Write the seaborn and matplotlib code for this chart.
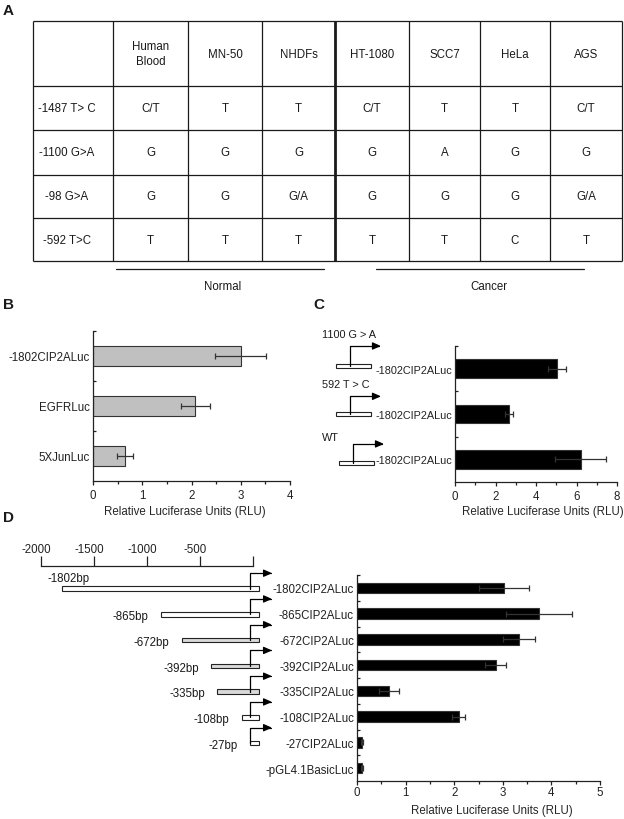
import numpy as np
import matplotlib
matplotlib.use('Agg')
import matplotlib.pyplot as plt
import matplotlib.transforms as mtransforms
from matplotlib.patches import Rectangle
import seaborn as sns

# Panel A: promoter SNP genotypes per cell line
cell_lines = ['Human\nBlood', 'MN-50', 'NHDFs', 'HT-1080', 'SCC7', 'HeLa', 'AGS']
snps = ['-1487 T> C', '-1100 G>A', '-98 G>A', '-592 T>C']
genotypes = [
    ['C/T', 'T', 'T', 'C/T', 'T', 'T', 'C/T'],
    ['G', 'G', 'G', 'G', 'A', 'G', 'G'],
    ['G', 'G', 'G/A', 'G', 'G', 'G', 'G/A'],
    ['T', 'T', 'T', 'T', 'T', 'C', 'T'],
]
groups = ['Normal', 'Cancer']

# Panel B
b_labels = ['-1802CIP2ALuc', 'EGFRLuc', '5XJunLuc']
b_rlu = [3.0, 2.08, 0.65]
b_err = [0.52, 0.30, 0.16]

# Panel C
c_variants = ['1100 G > A', '592 T > C', 'WT']
c_construct = '-1802CIP2ALuc'
c_rlu = [5.05, 2.65, 6.2]
c_err = [0.45, 0.20, 1.25]

# Panel D
d_labels = ['-1802CIP2ALuc', '-865CIP2ALuc', '-672CIP2ALuc', '-392CIP2ALuc',
            '-335CIP2ALuc', '-108CIP2ALuc', '-27CIP2ALuc', '-pGL4.1BasicLuc']
d_starts = [-1802, -865, -672, -392, -335, -108, -27]
d_rlu = [3.02, 3.74, 3.33, 2.85, 0.66, 2.09, 0.10, 0.10]
d_err = [0.52, 0.68, 0.33, 0.22, 0.20, 0.13, 0.02, 0.02]
scale_ticks = [-2000, -1500, -1000, -500, 0]

FS = 8.3
sns.set_style('ticks')
plt.rcParams['font.family'] = ['Liberation Sans', 'DejaVu Sans']
plt.rcParams.update({
    'font.size': FS, 'axes.labelsize': FS, 'xtick.labelsize': FS,
    'ytick.labelsize': FS, 'axes.linewidth': 0.9, 'axes.edgecolor': '#222222',
    'xtick.color': '#222222', 'ytick.color': '#222222', 'text.color': '#1a1a1a',
    'xtick.major.width': 0.9, 'ytick.minor.width': 0.9, 'xtick.minor.width': 0.9,
})

W, H = 624, 820
fig = plt.figure(figsize=(W / 100, H / 100), dpi=100)


def box(x, y, w, h):
    # pixel box (top-left origin) -> figure fraction
    return [x / W, 1 - (y + h) / H, w / W, h / H]


def letter(x, y, s):
    fig.text(x / W, 1 - y / H, s, fontsize=11, fontweight='bold', va='center', ha='left')


ARROW = dict(arrowstyle='-|>,head_length=0.5,head_width=0.22',
             connectionstyle='angle,angleA=90,angleB=0,rad=0',
             color='black', lw=0.9, shrinkA=0, shrinkB=0, mutation_scale=10)

# ---------------- A: table ----------------
col_w = [80, 75, 74, 73, 74, 71, 70, 72]
row_h = [65, 44, 45, 43, 43]
xe = np.concatenate([[0], np.cumsum(col_w)])
ye = np.concatenate([[0], np.cumsum(row_h)])
ax = fig.add_axes(box(33, 22, xe[-1], ye[-1]))
ax.set_xlim(0, xe[-1])
ax.set_ylim(ye[-1], 0)
ax.axis('off')
for i, x in enumerate(xe):
    ax.vlines(x, 0, ye[-1], color='#1a1a1a', lw=2.0 if i == 4 else 0.9, clip_on=False)
ax.hlines(ye, 0, xe[-1], color='#1a1a1a', lw=0.9, clip_on=False)
xc = (xe[:-1] + xe[1:]) / 2
yc = (ye[:-1] + ye[1:]) / 2
for name, x in zip(cell_lines, xc[1:]):
    ax.text(x, yc[0], name, ha='center', va='center', linespacing=1.3)
for r, (snp, row) in enumerate(zip(snps, genotypes)):
    ax.text(xc[0] - 6, yc[r + 1], snp, ha='center', va='center')
    for g, x in zip(row, xc[1:]):
        ax.text(x, yc[r + 1], g, ha='center', va='center')
group_spans = [(83, 291), (343, 551)]
group_text_x = [190, 456]
for name, (g0, g1), tx in zip(groups, group_spans, group_text_x):
    ax.plot([g0, g1], [248, 248], color='#1a1a1a', lw=0.9, clip_on=False)
    ax.text(tx, 265, name, ha='center', va='center')
letter(3, 11, 'A')


# ---------------- bar helper ----------------
def rlu_bars(ax, cats, vals, errs, color, xmax, step, minor, xpad):
    sns.barplot(x=vals, y=cats, orient='h', color=color, edgecolor='#333333',
                linewidth=0.8, width=0.41, saturation=1, errorbar=None, ax=ax)
    n = len(cats)
    ax.errorbar(vals, np.arange(n), xerr=errs, fmt='none', ecolor='#333333',
                elinewidth=0.9, capsize=2.2, capthick=0.9)
    ax.set_ylim(n - 0.5, -0.5)
    ax.set_xlim(0, xmax)
    ax.set_xticks(np.arange(0, xmax + 0.01, step))
    ax.set_xticks(np.arange(0, xmax + 0.01, minor), minor=True)
    ax.set_yticks(np.arange(n))
    ax.set_yticks(np.arange(n) - 0.5, minor=True)
    ax.tick_params(axis='y', which='major', length=0, pad=2.2)
    ax.tick_params(axis='y', which='minor', direction='in', length=2.5)
    ax.tick_params(axis='x', which='major', length=3, pad=xpad)
    ax.tick_params(axis='x', which='minor', length=2.2)
    ax.set_ylabel('')
    ax.set_xlabel('Relative Luciferase Units (RLU)')
    ax.xaxis.label.set_va('center')
    sns.despine(ax=ax)


# ---------------- B ----------------
ax_b = fig.add_axes(box(93, 332, 197, 150))
rlu_bars(ax_b, b_labels, b_rlu, b_err, '#c0c0c0', 4, 1, 0.5, 3.0)
ax_b.xaxis.set_label_coords(0.467, -30 / 150)
letter(3, 305, 'B')

# ---------------- C ----------------
ax_c = fig.add_axes(box(455, 347, 162, 136))
rlu_bars(ax_c, c_variants, c_rlu, c_err, '#000000', 8, 2, 1, 2.8)
ax_c.set_yticklabels([c_construct] * len(c_variants), fontsize=7.8)
ax_c.xaxis.set_label_coords(0.543, -29 / 136)
letter(313, 305, 'C')

ax_cs = fig.add_axes(box(310, 347, 145, 136))
ax_cs.set_xlim(0, 145)
ax_cs.set_ylim(2.5, -0.5)
ax_cs.axis('off')
c_rect_dy = [-0.06, 0.01, 0.08]
c_top_dy = [-0.5, -0.39, -0.34]
c_text_dy = [-0.77, -0.66, -0.5]
c_shift = [0, 0, 3]
for i, name in enumerate(c_variants):
    x0 = 26 + c_shift[i]
    yr = i + c_rect_dy[i]
    ax_cs.add_patch(Rectangle((x0, yr - 0.045), 35, 0.09, fc='white', ec='#222222', lw=0.8))
    ax_cs.annotate('', xy=(x0 + 45, i + c_top_dy[i]), xytext=(x0 + 13.5, yr),
                   arrowprops=ARROW, annotation_clip=False)
    ax_cs.text(12, i + c_text_dy[i], name, ha='left', va='center', fontsize=7.8)

# ---------------- D ----------------
ax_d = fig.add_axes(box(357, 576, 243, 206))
rlu_bars(ax_d, d_labels, d_rlu, d_err, '#000000', 5, 1, 0.5, 0.8)
ax_d.xaxis.set_label_coords(0.556, -29 / 206)
letter(3, 518, 'D')

# bp scale bar
PX0, PX_PER_BP = 253, 212 / 2000
ax_sc = fig.add_axes(box(41, 567, 212, 1))
ax_sc.patch.set_visible(False)
ax_sc.set_xlim(-2000, 0)
ax_sc.set_yticks([])
for s in ['left', 'right', 'bottom']:
    ax_sc.spines[s].set_visible(False)
ax_sc.xaxis.tick_top()
ax_sc.set_xticks(scale_ticks)
ax_sc.set_xticklabels([str(t) if t != 0 else '' for t in scale_ticks])
ax_sc.tick_params(axis='x', length=7.2, width=0.9, pad=0.6, direction='out')
shift = mtransforms.ScaledTranslation(-0.05, 0, fig.dpi_scale_trans)
for lab in ax_sc.get_xticklabels():
    lab.set_transform(lab.get_transform() + shift)

# construct schematics
ax_ds = fig.add_axes(box(20, 576, 280, 206))
ax_ds.set_xlim((20 - PX0) / PX_PER_BP, (300 - PX0) / PX_PER_BP)
ax_ds.set_ylim(len(d_labels) - 0.5, -0.5)
ax_ds.axis('off')
d_fill = ['white', 'white', '#d9d9d9', '#d9d9d9', '#d9d9d9', 'white', 'white']
for i, start in enumerate(d_starts):
    yr = i + 0.03
    ax_ds.add_patch(Rectangle((start, yr - 0.085), 57 - start, 0.17,
                              fc=d_fill[i], ec='#222222', lw=0.8))
    ax_ds.annotate('', xy=(180, i - 0.57), xytext=(-28, yr),
                   arrowprops=ARROW, annotation_clip=False)
    if i == 0:
        ax_ds.text((47 - PX0) / PX_PER_BP, i - 0.39, f'{start}bp', ha='left', va='center')
    else:
        ax_ds.annotate(f'{start}bp', xy=(start, i + 0.1), xytext=(-9, 0),
                       textcoords='offset points', ha='right', va='center')

fig.savefig('out.png', dpi=100)
